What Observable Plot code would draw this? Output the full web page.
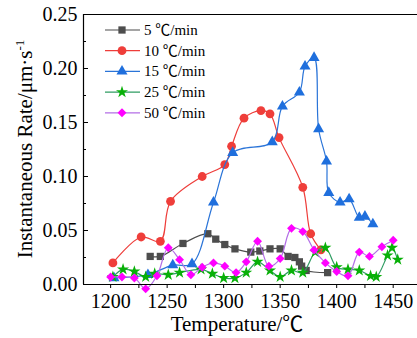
<!DOCTYPE html>
<html><head><meta charset="utf-8">
<script src="https://cdn.jsdelivr.net/npm/d3@7"></script>
<script src="https://cdn.jsdelivr.net/npm/@observablehq/plot@0.6"></script>
<style>
body{margin:0;background:#fff;}
#chart{width:417px;height:338px;overflow:hidden;}
</style>
</head><body><div id="chart"></div>
<script>
// ---- data ----
const seriesNames = ["5 ℃/min", "10 ℃/min", "15 ℃/min", "25 ℃/min", "50 ℃/min"];

const t5 = [1235, 1244, 1264, 1286, 1293, 1301, 1310, 1324, 1332, 1341, 1350, 1357, 1363, 1367, 1369, 1373, 1392];
const v5 = [0.026, 0.026, 0.038, 0.047, 0.042, 0.037, 0.033, 0.030, 0.031, 0.033, 0.033, 0.026, 0.025, 0.021, 0.017, 0.013, 0.011];

const t10 = [1202, 1227, 1244, 1253, 1281, 1301, 1307, 1318, 1333, 1341, 1349, 1370, 1377, 1386];
const v10 = [0.020, 0.044, 0.040, 0.077, 0.100, 0.111, 0.128, 0.154, 0.161, 0.158, 0.136, 0.090, 0.047, 0.032];

const t15 = [1203, 1233, 1255, 1272, 1291, 1308, 1343, 1352, 1367, 1372, 1380, 1384, 1391, 1393, 1403, 1411, 1420, 1425, 1432];
const v15 = [0.006, 0.009, 0.018, 0.019, 0.076, 0.122, 0.132, 0.165, 0.178, 0.202, 0.210, 0.144, 0.114, 0.085, 0.076, 0.079, 0.062, 0.063, 0.056];

const t25 = [1202, 1211, 1221, 1231, 1239, 1251, 1261, 1280, 1290, 1300, 1310, 1320, 1330, 1341, 1350, 1360, 1370, 1381, 1390, 1400, 1410, 1420, 1430, 1435, 1445, 1449, 1454];
const v25 = [0.007, 0.014, 0.012, 0.007, 0.010, 0.009, 0.011, 0.014, 0.010, 0.006, 0.006, 0.011, 0.021, 0.013, 0.007, 0.013, 0.011, 0.030, 0.034, 0.016, 0.014, 0.013, 0.008, 0.007, 0.027, 0.034, 0.023];

const t50 = [1200, 1210, 1221, 1231, 1241, 1251, 1261, 1271, 1281, 1291, 1301, 1311, 1320, 1330, 1340, 1350, 1360, 1370, 1380, 1390, 1400, 1410, 1420, 1429, 1440, 1450];
const v50 = [0.007, 0.007, 0.006, -0.004, 0.008, 0.034, 0.023, 0.009, 0.016, 0.020, 0.017, 0.011, 0.021, 0.040, 0.017, 0.024, 0.052, 0.049, 0.032, 0.020, 0.012, 0.008, 0.030, 0.026, 0.035, 0.041];

const xMajor = [1200, 1250, 1300, 1350, 1400, 1450];
const xMinor = [1225, 1275, 1325, 1375, 1425];
const yMajor = [0, 0.05, 0.10, 0.15, 0.20, 0.25];
const yMinor = [0.025, 0.075, 0.125, 0.175, 0.225];

// ---- styles ----
const lineColors = ["#4d4d4d", "#ee3d3a", "#2a74d8", "#2f9c62", "#b36ee6"];
const dotColors = ["#4d4d4d", "#ef3e3a", "#1f6fdd", "#08b008", "#ff00ff"];
const symbols = ["square", "circle", "triangle", "star", "diamond2"];
const radii = [4.1, 4.4, 4.1, 3.8, 4.0];
const d3Symbols = [d3.symbolSquare, d3.symbolCircle, d3.symbolTriangle, d3.symbolStar, d3.symbolDiamond2];

const ts = [t5, t10, t15, t25, t50];
const vs = [v5, v10, v15, v25, v50];
const rows = ts.map((t, i) => t.map((x, j) => ({series: seriesNames[i], t: x, v: vs[i][j]})));

const FONT = "'Liberation Serif', 'Times New Roman', 'Noto Sans CJK SC', serif";

const marks = [];
rows.forEach((r, i) => {
  marks.push(Plot.line(r, {x: "t", y: "v", stroke: lineColors[i], strokeWidth: 1.2, curve: "catmull-rom"}));
  marks.push(Plot.dot(r, {x: "t", y: "v", fill: dotColors[i], stroke: "none", symbol: symbols[i], r: radii[i]}));
});

const chart = Plot.plot({
  width: 417,
  height: 338,
  marginLeft: 83,
  marginTop: 14,
  marginBottom: 54,
  marginRight: 0,
  style: {fontFamily: FONT, fontSize: "20px", background: "white", color: "black"},
  x: {domain: [1176, 1471.5]},
  y: {domain: [0, 0.25]},
  marks: [
    ...marks,
    Plot.ruleY([0, 0.25], {stroke: "black", strokeWidth: 1.2}),
    Plot.ruleX([1176], {stroke: "black", strokeWidth: 1.2}),
    Plot.axisX({ticks: xMajor, tickSize: 4, tickPadding: 5, tickFormat: d => String(d), label: null, fontSize: 20}),
    Plot.axisX({ticks: xMinor, tickSize: 4, tickFormat: () => "", label: null}),
    Plot.axisY({ticks: yMajor, tickSize: 5, dx: 5, tickFormat: () => "", label: null}),
    Plot.axisY({ticks: yMinor, tickSize: 3, dx: 3, tickFormat: () => "", label: null}),
    Plot.axisY({ticks: yMajor, tickSize: 0, tickPadding: 6, tickFormat: d3.format(".2f"), label: null, fontSize: 20})
  ]
});

document.getElementById("chart").appendChild(chart);

const svg = d3.select(chart);

// axis titles
svg.append("text")
  .attr("x", 237).attr("y", 331)
  .attr("text-anchor", "middle")
  .attr("font-family", FONT).attr("font-size", 21).attr("fill", "black")
  .text("Temperature/℃");

const yl = svg.append("text")
  .attr("transform", "translate(32,149) rotate(-90)")
  .attr("text-anchor", "middle")
  .attr("font-family", FONT).attr("font-size", 21).attr("fill", "black");
yl.append("tspan").text("Instantaneous Rate/μm·s");
yl.append("tspan").attr("font-size", 13).attr("dy", -8).text("-1");

// legend
const lg = svg.append("g");
seriesNames.forEach((name, i) => {
  const y = 30 + i * 20.7;
  lg.append("line").attr("x1", 105).attr("x2", 140).attr("y1", y).attr("y2", y)
    .attr("stroke", lineColors[i]).attr("stroke-width", 1.2);
  lg.append("path").attr("transform", `translate(122,${y})`)
    .attr("d", d3.symbol().type(d3Symbols[i]).size(radii[i] * radii[i] * Math.PI)())
    .attr("fill", dotColors[i]);
  lg.append("text").attr("x", 144).attr("y", y + 5)
    .attr("text-anchor", "start")
    .attr("font-family", FONT).attr("font-size", 15).attr("fill", "black")
    .text(name);
});
</script>
</body></html>
